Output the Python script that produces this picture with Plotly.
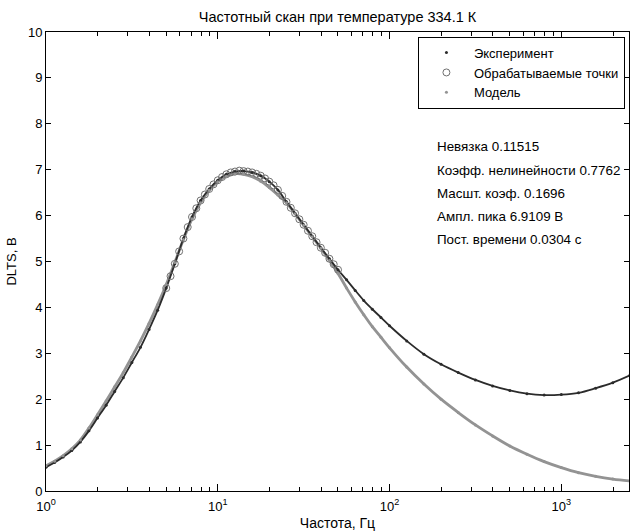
import plotly.graph_objects as go

# Frequencies (Hz) at which values were read
freq = [1.0, 1.122, 1.259, 1.413, 1.585, 1.778, 1.995, 2.239, 2.512, 2.818,
        3.162, 3.548, 3.981, 4.467, 5.012, 5.623, 6.310, 7.079, 7.943, 8.913,
        10.0, 11.22, 12.59, 14.13, 15.85, 17.78, 19.95, 22.39, 25.12, 28.18,
        31.62, 35.48, 39.81, 44.67, 50.12, 56.23, 63.10, 70.79, 79.43, 89.13,
        100.0, 125.9, 158.5, 199.5, 251.2, 316.2, 398.1, 501.2, 631.0, 794.3,
        1000.0, 1259.0, 1585.0, 1995.0, 2512.0]

experiment = [0.52, 0.62, 0.74, 0.88, 1.07, 1.31, 1.59, 1.87, 2.17, 2.47,
              2.80, 3.13, 3.52, 3.94, 4.42, 4.95, 5.50, 5.97, 6.33, 6.58,
              6.77, 6.90, 6.96, 6.97, 6.94, 6.87, 6.74, 6.56, 6.30, 6.05,
              5.80, 5.55, 5.30, 5.06, 4.82, 4.60, 4.37, 4.15, 3.96, 3.78,
              3.60, 3.27, 2.98, 2.76, 2.58, 2.42, 2.29, 2.19, 2.12, 2.09,
              2.10, 2.14, 2.24, 2.36, 2.52]

model = [0.55, 0.65, 0.77, 0.92, 1.11, 1.37, 1.66, 1.96, 2.27, 2.58,
         2.92, 3.27, 3.65, 4.06, 4.50, 4.98, 5.48, 5.93, 6.28, 6.55,
         6.74, 6.86, 6.91, 6.90, 6.85, 6.75, 6.61, 6.45, 6.28, 6.04,
         5.79, 5.54, 5.29, 5.02, 4.74, 4.42, 4.12, 3.84, 3.58, 3.35,
         3.12, 2.70, 2.33, 2.00, 1.71, 1.44, 1.20, 0.98, 0.80, 0.64,
         0.51, 0.40, 0.32, 0.26, 0.22]

# Processed points (circles)
proc_freq = [5.012, 5.309, 5.623, 5.957, 6.310, 6.683, 7.079, 7.499, 7.943, 8.414,
             8.913, 9.441, 10.0, 10.59, 11.22, 11.89, 12.59, 13.34, 14.13, 14.96,
             15.85, 16.79, 17.78, 18.84, 19.95, 21.13, 22.39, 23.71, 25.12, 26.61,
             28.18, 29.85, 31.62, 33.50, 35.48, 37.58, 39.81, 42.17, 44.67, 47.32,
             50.12]
proc_vals = [4.42, 4.68, 4.95, 5.22, 5.50, 5.75, 5.97, 6.16, 6.33, 6.46,
             6.58, 6.68, 6.77, 6.84, 6.90, 6.94, 6.96, 6.98, 6.97, 6.96,
             6.94, 6.91, 6.87, 6.81, 6.74, 6.66, 6.56, 6.43, 6.30, 6.17,
             6.05, 5.92, 5.80, 5.67, 5.55, 5.42, 5.30, 5.19, 5.06, 4.94,
             4.82]

title = "Частотный скан при температуре 334.1 К"
info_lines = ["Невязка 0.11515", "Коэфф. нелинейности 0.7762", "Масшт. коэф. 0.1696",
              "Ампл. пика 6.9109 В", "Пост. времени 0.0304 с"]
xdecade_vals = [1, 10, 100, 1000]
xtick_vals = [1, 2, 3, 4, 5, 6, 7, 8, 9,
              10, 20, 30, 40, 50, 60, 70, 80, 90,
              100, 200, 300, 400, 500, 600, 700, 800, 900,
              1000, 2000]
xtick_text = ["10<sup>0</sup>", "", "", "", "", "", "", "", "",
              "10<sup>1</sup>", "", "", "", "", "", "", "", "",
              "10<sup>2</sup>", "", "", "", "", "", "", "", "",
              "10<sup>3</sup>", ""]

FONT = "Liberation Sans, Arial, sans-serif"
EXP_C = "#2b2b2b"
MOD_C = "#939393"
CIR_C = "#707070"
XRANGE = [0, 3.394]

fig = go.Figure()
fig.add_trace(go.Scatter(x=freq, y=model, mode="lines", line=dict(color=MOD_C, width=2.8, shape="spline"),
                         showlegend=False, hoverinfo="skip"))
fig.add_trace(go.Scatter(x=freq, y=experiment, mode="lines", line=dict(color=EXP_C, width=1.8, shape="spline"),
                         showlegend=False, hoverinfo="skip"))
fig.add_trace(go.Scatter(x=proc_freq, y=proc_vals, mode="markers", name="Обрабатываемые точки",
                         marker=dict(symbol="circle-open", size=7, color=CIR_C, line=dict(width=1, color=CIR_C)),
                         legendrank=2))
fig.add_trace(go.Scatter(x=freq, y=experiment, mode="markers", name="Эксперимент",
                         marker=dict(size=3, color=EXP_C), legendrank=1))
fig.add_trace(go.Scatter(x=freq, y=model, mode="markers", name="Модель",
                         marker=dict(size=3, color=MOD_C), legendrank=3))
# invisible trace that carries the overlay axis with the longer decade ticks
fig.add_trace(go.Scatter(x=freq, y=model, xaxis="x2", mode="lines", opacity=0,
                         showlegend=False, hoverinfo="skip"))

y_pos = [0.7495, 0.6993, 0.6492, 0.5991, 0.5490]
for txt, yp in zip(info_lines, y_pos):
    fig.add_annotation(x=0.668, y=yp, xref="paper", yref="paper", text=txt, showarrow=False,
                       xanchor="left", yanchor="middle", font=dict(size=13.4, color="black", family=FONT))

fig.update_layout(
    width=631, height=532,
    margin=dict(l=46, r=2, t=32, b=41),
    paper_bgcolor="white", plot_bgcolor="white",
    font=dict(family=FONT, size=13, color="black"),
    title=dict(text=title, xref="paper", x=0.5, xanchor="center", y=0.968, yanchor="middle",
               font=dict(size=14.5, family=FONT, color="black")),
    legend=dict(x=0.993, y=0.99, xanchor="right", yanchor="top", bgcolor="white",
                bordercolor="black", borderwidth=1, font=dict(size=13, family=FONT),
                itemwidth=45, tracegroupgap=0),
    xaxis=dict(type="log", range=XRANGE, showgrid=False, zeroline=False,
               showline=True, mirror="ticks", linecolor="black", linewidth=1,
               ticks="inside", ticklen=4, tickwidth=1, tickcolor="black",
               tickmode="array", tickvals=xtick_vals, ticktext=xtick_text, ticklabelstandoff=3,
               title=dict(text="Частота, Гц", standoff=5, font=dict(size=14)),
               tickfont=dict(size=13)),
    xaxis2=dict(type="log", range=XRANGE, overlaying="x", anchor="y", side="bottom",
                showgrid=False, zeroline=False, showline=False, mirror="ticks",
                ticks="inside", ticklen=7, tickwidth=1, tickcolor="black",
                tickmode="array", tickvals=xdecade_vals, showticklabels=False),
    yaxis=dict(range=[0, 10], dtick=1, showgrid=False, zeroline=False,
               showline=True, mirror="ticks", linecolor="black", linewidth=1,
               ticks="inside", ticklen=5, tickwidth=1, tickcolor="black",
               title=dict(text="DLTS, В", standoff=8, font=dict(size=13)),
               tickfont=dict(size=13)),
)

fig.write_html("out.html", config={"displayModeBar": False},
               post_script="document.body.style.margin='0';")
